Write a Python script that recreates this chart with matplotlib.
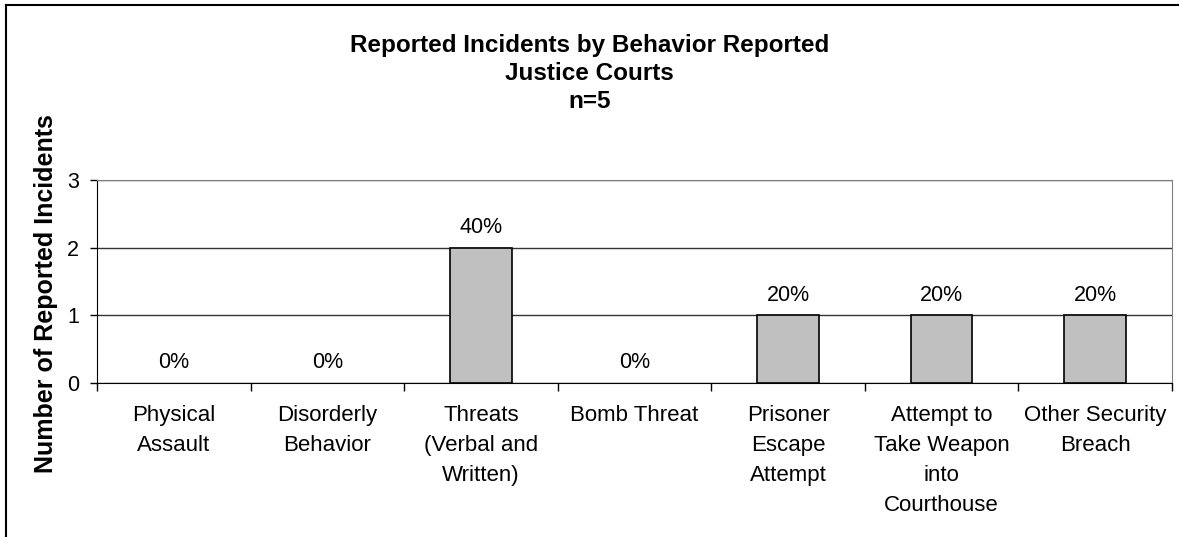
import matplotlib
matplotlib.use('Agg')
import matplotlib.pyplot as plt
from matplotlib.lines import Line2D

plt.rcParams['font.family'] = ['Liberation Sans', 'DejaVu Sans']

# data
categories = ['Physical\nAssault', 'Disorderly\nBehavior', 'Threats\n(Verbal and\nWritten)',
              'Bomb Threat', 'Prisoner\nEscape\nAttempt', 'Attempt to\nTake Weapon\ninto\nCourthouse',
              'Other Security\nBreach']
counts = [0, 0, 2, 0, 1, 1, 1]
pct_labels = ['0%', '0%', '40%', '0%', '20%', '20%', '20%']
y_ticks = [0, 1, 2, 3]

fig = plt.figure(figsize=(11.79, 5.37), dpi=100)
ax = fig.add_axes([97 / 1179, 1 - 383 / 537, 1075 / 1179, 203 / 537])

x = list(range(len(categories)))
bars = ax.bar(x, counts, width=0.4, color='#C0C0C0', edgecolor='black', linewidth=1.2, zorder=3)
for b, c in zip(bars, counts):
    if c == 0:
        b.set_visible(False)

for xi, c, lab in zip(x, counts, pct_labels):
    ax.annotate(lab, (xi, c), xytext=(0, 7), textcoords='offset points',
                ha='center', va='bottom', fontsize=15.5)

ax.set_xlim(-0.5, len(categories) - 0.5)
ax.set_ylim(0, 3)
ax.set_yticks(y_ticks)
ax.yaxis.grid(True, color='#333333', linewidth=1)
ax.set_axisbelow(True)

ax.set_xticks(x)
ax.set_xticklabels(categories, fontsize=16, linespacing=1.56, va='top')
ax.tick_params(axis='x', which='major', length=0, pad=16)
ax.set_xticks([i - 0.5 for i in range(len(categories) + 1)], minor=True)
ax.tick_params(axis='x', which='minor', length=6, width=1, direction='out')
ax.tick_params(axis='y', length=5, width=1, direction='out', labelsize=15.5, pad=8)

for s in ['top', 'right']:
    ax.spines[s].set_color('#808080')
for s in ['left', 'bottom']:
    ax.spines[s].set_color('black')

ax.set_ylabel('Number of Reported Incidents', fontsize=18, fontweight='bold')
ax.yaxis.set_label_coords(-0.036, 0.44)

fig.text(0.5, 1 - 52 / 537, 'Reported Incidents by Behavior Reported', ha='center', va='baseline',
         fontsize=17.5, fontweight='bold')
fig.text(0.5, 1 - 80 / 537, 'Justice Courts', ha='center', va='baseline', fontsize=17.5, fontweight='bold')
fig.text(0.5, 1 - 108 / 537, 'n=5', ha='center', va='baseline', fontsize=17.5, fontweight='bold')

# chart area border (left and top visible)
fig.add_artist(Line2D([6 / 1179, 6 / 1179], [0, 1 - 5 / 537], transform=fig.transFigure, color='black', lw=1.5))
fig.add_artist(Line2D([6 / 1179, 1], [1 - 5 / 537, 1 - 5 / 537], transform=fig.transFigure, color='black', lw=1.5))

fig.savefig('out.png', dpi=100)
